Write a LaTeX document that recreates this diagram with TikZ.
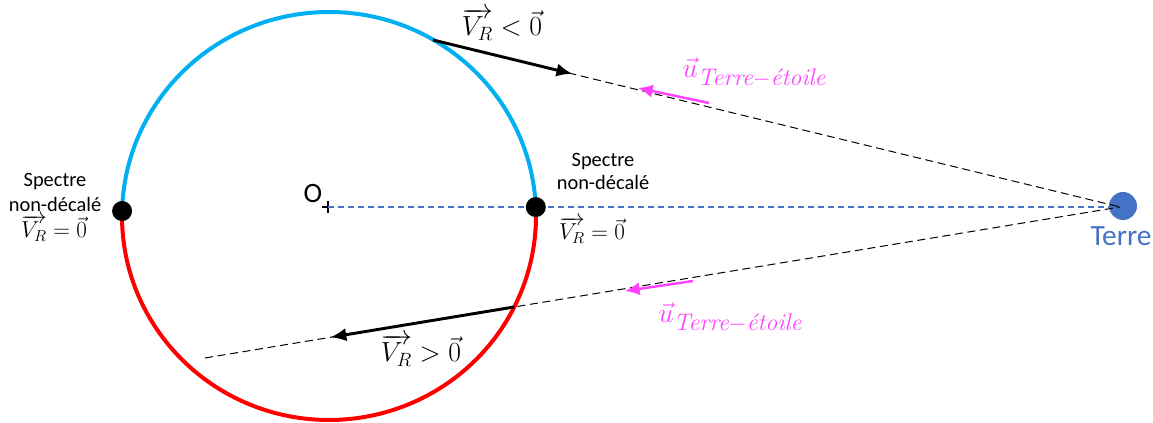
\documentclass[tikz,border=0pt]{standalone}
\usepackage{amsmath}
\usepackage{fontspec}
\newfontfamily\calibri{Carlito}
\usetikzlibrary{arrows.meta,positioning,calc}
\definecolor{ciel}{RGB}{0,176,240}
\definecolor{rouge}{RGB}{255,0,0}
\definecolor{rose}{RGB}{255,64,255}
\definecolor{terrec}{RGB}{68,114,196}
\newcommand{\VR}{\overrightarrow{\text{\raisebox{0pt}[0.62em]{$V_R$}}}}
\newcommand{\uTE}{\vec u_{\text{\fontsize{18}{20}\selectfont\itshape Terre$-$étoile}}}

\begin{document}
\begin{tikzpicture}[x=0.75pt,y=0.75pt,
  dot/.style={circle,fill=black,inner sep=0pt,minimum size=15pt},
  visee/.style={black,line width=0.75pt,dash pattern=on 6pt off 3.5pt},
  vitesse/.style={black,line width=2.2pt,-{Latex[length=12pt,width=10pt]}},
  unitv/.style={rose,line width=1.8pt,-{Latex[length=11pt,width=10pt]}},
  lab/.style={font=\calibri\fontsize{15.3}{18}\selectfont,inner sep=0pt,anchor=base},
  mlab/.style={font=\fontsize{21}{24}\selectfont,inner sep=0pt,anchor=base},
  eqlab/.style={font=\fontsize{18}{20}\selectfont,inner sep=0pt,anchor=base},
  ulab/.style={rose,font=\fontsize{22}{24}\selectfont,inner sep=0pt,anchor=base west}]

\useasboundingbox (0,0) rectangle (1153,423);

% orbit: blue half (approaching), red half (receding)
\coordinate (C) at (329,207);
\draw[ciel,line width=3pt] (C) ++(2.5:207 and 204)
  arc[start angle=2.5,end angle=178.6,x radius=207,y radius=204];
\draw[rouge,line width=3pt] (C) ++(178.6:207 and 204)
  arc[start angle=178.6,end angle=362.5,x radius=207,y radius=204];

% centre O
\coordinate (O) at (328,216);
\draw[line width=1.4pt] ($(O)+(-6,0)$) -- ($(O)+(6,0)$)
  ($(O)+(0,-6)$) -- ($(O)+(0,6)$);
\node[font=\calibri\fontsize{21}{24}\selectfont,inner sep=0pt,anchor=base]
  (Olab) at (313,220) {O};

% Earth
\node[circle,fill=terrec,minimum size=21pt,inner sep=0pt] (E) at (1123,217) {};
\coordinate (T) at (1120,216);
\node[terrec,font=\calibri\fontsize{22}{26}\selectfont,inner sep=0pt,anchor=base]
  (Tlab) at (1121,177) {Terre};
\draw[terrec,line width=0.8pt,dash pattern=on 4.5pt off 3pt] (O) -- (T);

% points where the spectrum is not shifted
\node[dot] (Ldot) at ($(C)+(178.6:207 and 204)$) {};
\node[dot] (Rdot) at ($(C)+(2.5:207 and 204)$) {};

% upper sight line
\coordinate (A1) at (433,383);
\draw[visee] (A1) -- (T);
\draw[vitesse] (A1) -- ($(A1)!0.203!(T)$);
\node[mlab] (vneg) at (502,387) {$\VR<\vec 0$};
\coordinate (u1a) at (709,320);
\coordinate (u1b) at (638,335);
\draw[unitv] (u1a) -- (u1b);
\node[ulab] (u1) at (682,345) {$\uTE$};

% lower sight line
\coordinate (D) at (205,65);
\draw[visee] (D) -- (T);
\draw[vitesse] ($(D)!0.338!(T)$) -- ($(D)!0.137!(T)$);
\node[mlab] (vpos) at (421,61) {$\VR>\vec 0$};
\coordinate (u2a) at (693,142);
\coordinate (u2b) at (625,132);
\draw[unitv] (u2a) -- (u2b);
\node[ulab] (u2) at (658,100) {$\uTE$};

% unshifted spectra
\node[lab] (ls1) at (55,236) {Spectre};
\node[lab] (ls2) at (55,211) {non-décalé};
\node[eqlab] (lv) at (54,185) {$\VR=\vec 0$};
\node[lab] (rs1) at (603,256) {Spectre};
\node[lab] (rs2) at (603,233) {non-décalé};
\node[eqlab] (rv) at (592,183) {$\VR=\vec 0$};

\end{tikzpicture}
\end{document}
